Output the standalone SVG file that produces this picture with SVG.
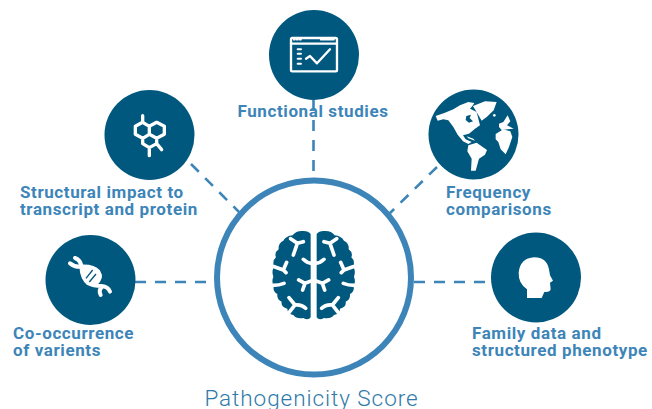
<svg xmlns="http://www.w3.org/2000/svg" width="652" height="409" viewBox="0 0 652 409">
<style>
.n{fill:#00587f}
.c{fill:none;stroke:#3d85b8;stroke-width:2.6;stroke-dasharray:11 9}
.t{font-family:"Roboto","Liberation Sans",sans-serif;font-weight:700;font-size:17px;letter-spacing:.6px;fill:#3d85b8}
.w{fill:none;stroke:#fff;stroke-linecap:round;stroke-linejoin:round}
.l{fill:#fff}
</style>
<defs>
<g id="hemi">
<path class="n" d="M212 72Q205 62 188 63Q168 62 158 76Q138 78 130 92Q114 100 116 118Q102 128 108 142Q96 152 102 170Q94 185 100 200Q94 215 101 228Q98 245 112 252Q110 270 125 275Q122 292 142 296Q142 312 160 315Q170 328 190 324Q205 332 212 322Z"/>
<path class="w" stroke-width="11" d="M152 86L172 100L160 135M172 100L190 95M190 148Q202 160 216 160M103 170L130 180M140 157L130 180L138 188M98 226Q118 226 132 220M176 210L195 220L188 240M195 220L216 212M147 263L165 285L147 308M165 285Q185 283 197 295"/>
</g>
</defs>
<rect width="652" height="409" fill="#fff"/>
<g id="connectors">
<path class="c" d="M313.500 100V178"/>
<path class="c" d="M135 282H214"/>
<path class="c" d="M414 282H491"/>
<path class="c" d="M191 164L241 214"/>
<path class="c" d="M437 167L389 214"/>
</g>
<g id="score">
<circle cx="314" cy="277.500" r="97" fill="#fff" stroke="#3d85b8" stroke-width="6"/>
<g transform="translate(240 210) scale(.3333)">
<use href="#hemi"/>
<use href="#hemi" transform="matrix(-1 0 0 1 442 0)"/>
</g>
<text x="311.500" y="405.500" text-anchor="middle" style="font-family:'Roboto','Liberation Sans',sans-serif;font-weight:300;font-size:22.5px;fill:#2f7aa8;letter-spacing:.95px">Pathogenicity Score</text>
</g>
<g id="functional">
<circle class="n" cx="314" cy="55" r="45"/>
<g transform="translate(230 0) scale(.3333)">
<rect class="w" stroke-width="7" x="183" y="114" width="138" height="100" rx="4"/>
<path class="w" stroke-width="7" d="M183 131H321M228 176L240 168L261 190L300 148"/>
<path class="w" stroke-width="5" d="M191 119H195M200 119H204M209 119H213M272 119H312"/>
<path class="w" stroke-width="6" d="M203 148H213M203 161H213M203 176H213M203 191H213"/>
</g>
<text class="t" x="237.500" y="117">Functional studies</text>
</g>
<g id="structural">
<circle class="n" cx="149.500" cy="135" r="45"/>
<g transform="translate(100 85) scale(.3333)">
<path class="w" stroke-width="10" d="M128 92V112M128 112L106 124V148L128 160L148 148V124ZM148 124L170 112L193 124V148L170 160L148 148M128 160V176L148 188L170 176V160M148 188V212M170 176L185 194"/>
</g>
<text class="t" x="20" y="197.500">Structural impact to</text>
<text class="t" x="20" y="215">transcript and protein</text>
</g>
<g id="frequency">
<circle class="n" cx="473.500" cy="134.500" r="45"/>
<g transform="translate(435 92) scale(.3333)">
<path class="l" d="M2 72L30 62L55 52L75 40L100 30L118 33L112 42L105 50L125 60L130 80L135 100L120 110L102 125L84 130L92 142L110 150L100 156L84 148L68 128L55 105L40 85L25 82L8 86Z"/>
<path class="n" d="M94 72L108 68L104 78L114 88L102 92L92 84Z"/>
<path class="l" d="M95 133L115 140L120 146L100 139Z"/>
<path class="l" d="M114 42L150 28L185 30L176 55L156 74L140 86L126 62Z"/>
<circle class="l" cx="178" cy="70" r="4"/>
<path class="l" d="M100 160L125 152L156 174L150 188L132 200L122 236L108 236L110 200L97 178Z"/>
<path class="l" d="M182 126L205 112L226 118L232 135L222 165L212 187L197 172L190 150L182 142Z"/>
<path class="l" d="M192 95L205 90L218 70L226 88L216 100L236 110L200 114L192 105Z"/>
</g>
<text class="t" x="446" y="197.500">Frequency</text>
<text class="t" x="446" y="215">comparisons</text>
</g>
<g id="cooccurrence">
<circle class="n" cx="90.500" cy="280" r="45"/>
<g transform="translate(60 250) scale(.3333)">
<path class="l" d="M64 50Q100 48 115 65Q128 85 105 103Q85 100 75 80Q66 65 64 50Z"/>
<path class="w" stroke-width="12" d="M45 24Q62 30 64 50Q66 85 85 100Q100 108 125 108Q145 110 150 125M30 40Q45 52 64 50Q100 48 115 65Q128 85 105 103M125 112Q115 120 122 135"/>
<path style="fill:none;stroke:#00587f;stroke-width:4" d="M78 85L98 60M88 96L108 72"/>
</g>
<text class="t" x="13" y="339">Co-occurrence</text>
<text class="t" x="13" y="356">of varients</text>
</g>
<g id="family">
<circle class="n" cx="536" cy="277.500" r="45"/>
<g transform="translate(485 230) scale(.3333)">
<path class="l" d="M126 204V178Q100 160 101 128Q105 85 148 82Q185 82 192 118L195 136L204 152L195 158L197 178Q195 188 178 186L170 204Z"/>
</g>
<text class="t" x="472" y="339">Family data and</text>
<text class="t" x="472" y="356">structured phenotype</text>
</g>
</svg>
